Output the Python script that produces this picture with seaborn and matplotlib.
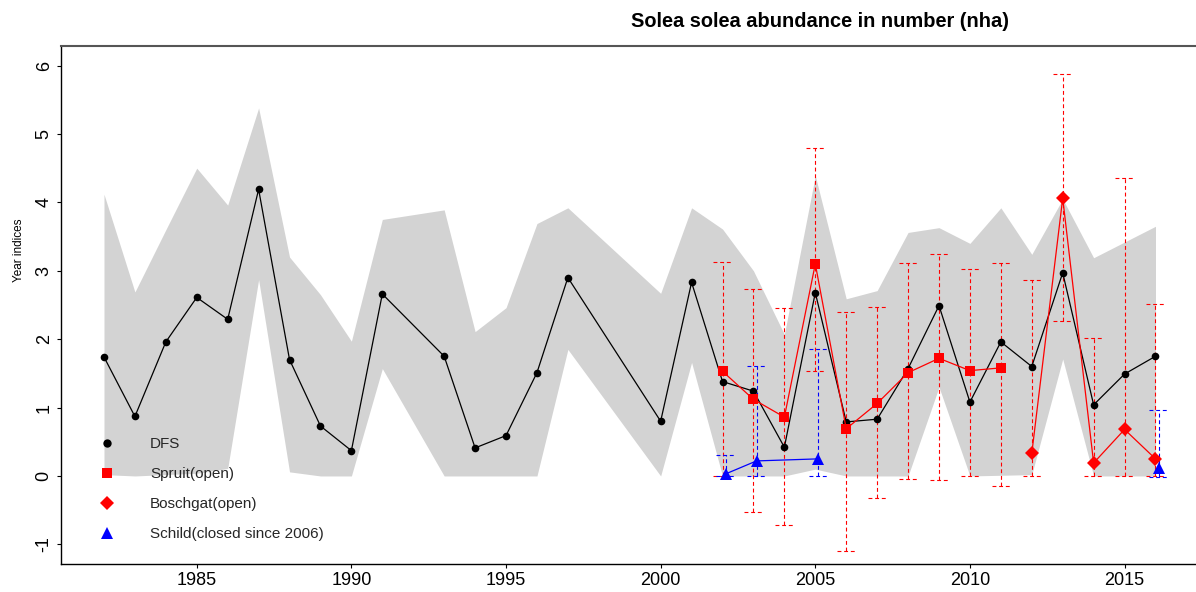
import numpy as np
import pandas as pd
import matplotlib
matplotlib.use("Agg")
import matplotlib.pyplot as plt
from matplotlib.lines import Line2D
import seaborn as sns

# DFS survey index with its confidence band
dfs_years = [1982, 1983, 1984, 1985, 1986, 1987, 1988, 1989, 1990, 1991,
             1993, 1994, 1995, 1996, 1997, 2000, 2001, 2002, 2003, 2004,
             2005, 2006, 2007, 2008, 2009, 2010, 2011, 2012, 2013, 2014,
             2015, 2016]
dfs_index = [1.74, 0.87, 1.96, 2.61, 2.29, 4.19, 1.70, 0.73, 0.37, 2.66,
             1.75, 0.41, 0.59, 1.51, 2.90, 0.80, 2.83, 1.38, 1.24, 0.42,
             2.68, 0.79, 0.83, 1.57, 2.49, 1.08, 1.96, 1.60, 2.97, 1.04,
             1.49, 1.75]
dfs_upper = [4.12, 2.69, 3.60, 4.50, 3.96, 5.38, 3.20, 2.65, 1.97, 3.75,
             3.89, 2.11, 2.46, 3.69, 3.92, 2.67, 3.92, 3.61, 3.00, 2.07,
             4.39, 2.59, 2.71, 3.56, 3.63, 3.40, 3.92, 3.24, 4.05, 3.19,
             3.42, 3.65]
dfs_lower = [0.02, 0.00, 0.02, 0.04, 0.11, 2.87, 0.06, 0.00, 0.00, 1.57,
             0.00, 0.00, 0.00, 0.00, 1.85, 0.00, 1.66, 0.00, 0.00, 0.00,
             0.10, 0.00, 0.00, 0.00, 1.30, 0.00, 0.01, 0.02, 1.71, 0.00,
             0.00, 0.00]

# Spruit (open)
spruit_years = [2002, 2003, 2004, 2005, 2006, 2007, 2008, 2009, 2010, 2011]
spruit_index = [1.53, 1.12, 0.86, 3.10, 0.69, 1.06, 1.51, 1.72, 1.54, 1.58]
spruit_low = [0.00, -0.52, -0.71, 1.54, -1.09, -0.32, -0.05, -0.06, 0.00, -0.14]
spruit_high = [3.13, 2.73, 2.45, 4.80, 2.40, 2.47, 3.12, 3.24, 3.03, 3.11]

# Boschgat (open)
boschgat_years = [2012, 2013, 2014, 2015, 2016]
boschgat_index = [0.33, 4.06, 0.19, 0.68, 0.25]
boschgat_low = [0.00, 2.27, 0.00, 0.00, 0.00]
boschgat_high = [2.87, 5.88, 2.02, 4.36, 2.51]

# Schild (closed since 2006); the 2016 value stands apart from the earlier run
schild_years = [2002, 2003, 2005, 2016]
schild_index = [0.03, 0.22, 0.25, 0.12]
schild_low = [0.00, 0.00, 0.00, -0.02]
schild_high = [0.30, 1.61, 1.85, 0.97]
schild_run = [1, 1, 1, 2]

legend_labels = ["DFS", "Spruit(open)", "Boschgat(open)", "Schild(closed since 2006)"]
x_ticks = [1985, 1990, 1995, 2000, 2005, 2010, 2015]
y_ticks = [-1, 0, 1, 2, 3, 4, 5, 6]

sns.set_theme(style="white")
plt.rcParams["font.family"] = ["Liberation Sans", "DejaVu Sans"]
plt.rcParams["axes.unicode_minus"] = False

fig = plt.figure(figsize=(11.96, 5.92), dpi=100)
ax = fig.add_axes([0.0510, 0.0473, 0.949, 0.8755])

# confidence band of the DFS index
ax.fill_between(dfs_years, dfs_lower, dfs_upper, color="#d3d3d3", lw=0, zorder=1)

DASH = (0, (3.5, 2.5))
CAP = 0.3
SHIFT = 0.1  # Schild drawn slightly to the right


def draw_errorbars(x, lo, hi, color):
    x = np.asarray(x, dtype=float)
    ax.vlines(x, lo, hi, colors=color, linestyles=[DASH], lw=0.8, zorder=2)
    for y in (lo, hi):
        ax.hlines(y, x - CAP, x + CAP, colors=color, linestyles=[DASH], lw=0.8, zorder=2)


draw_errorbars(spruit_years, spruit_low, spruit_high, "red")
draw_errorbars(boschgat_years, boschgat_low, boschgat_high, "red")
schild_x = np.asarray(schild_years, dtype=float) + SHIFT
draw_errorbars(schild_x, schild_low, schild_high, "blue")

dfs = pd.DataFrame({"year": dfs_years, "index": dfs_index})
spruit = pd.DataFrame({"year": spruit_years, "index": spruit_index})
boschgat = pd.DataFrame({"year": boschgat_years, "index": boschgat_index})
schild = pd.DataFrame({"year": schild_x, "index": schild_index, "run": schild_run})

sns.lineplot(data=dfs, x="year", y="index", estimator=None, color="black", lw=0.9,
             marker="o", markersize=5.5, markeredgewidth=0, ax=ax, zorder=4)
sns.lineplot(data=spruit, x="year", y="index", estimator=None, color="red", lw=0.9,
             marker="s", markersize=6.5, markeredgewidth=0, ax=ax, zorder=5)
sns.lineplot(data=boschgat, x="year", y="index", estimator=None, color="red", lw=0.9,
             marker="D", markersize=7.5, markeredgewidth=0, ax=ax, zorder=5)
sns.lineplot(data=schild, x="year", y="index", units="run", estimator=None, color="blue",
             lw=0.9, marker="^", markersize=8.5, markeredgewidth=0, ax=ax, zorder=5)

ax.set_xlim(1980.61, 2017.31)
ax.set_ylim(-1.287, 6.29)
ax.set_xticks(x_ticks)
ax.set_yticks(y_ticks)
ax.set_xlabel("")
ax.set_ylabel("Year indices", fontsize=8.5, color="black")
ax.yaxis.set_label_coords(-0.032, 0.606)

ax.tick_params(axis="both", direction="out", length=3, width=0.8, labelsize=13,
               color="black", labelcolor="black", bottom=True, left=True)
ax.tick_params(axis="x", pad=3)
ax.tick_params(axis="y", pad=3)
for lbl in ax.get_yticklabels():
    lbl.set_rotation(90)
    lbl.set_va("center")

ax.spines["right"].set_visible(False)
ax.spines["top"].set_color("#555555")
ax.spines["top"].set_linewidth(1.5)
for side in ("left", "bottom"):
    ax.spines[side].set_color("black")
    ax.spines[side].set_linewidth(1.0)
ax.grid(False)

handles = [
    Line2D([], [], ls="none", marker="o", color="black", ms=6, mew=0),
    Line2D([], [], ls="none", marker="s", color="red", ms=7, mew=0),
    Line2D([], [], ls="none", marker="D", color="red", ms=7.5, mew=0),
    Line2D([], [], ls="none", marker="^", color="blue", ms=8.5, mew=0),
]
ax.legend(handles, legend_labels, loc="upper left", bbox_to_anchor=(0.0335, 0.245),
          frameon=False, fontsize=11, handlelength=1.0, handletextpad=2.35,
          labelspacing=1.05, borderpad=0, borderaxespad=0)

fig.text(0.686, 0.963, "Solea solea abundance in number (nha)", ha="center",
         va="center", fontsize=14.4, fontweight="bold", color="black")

fig.savefig("out.png", dpi=100)
